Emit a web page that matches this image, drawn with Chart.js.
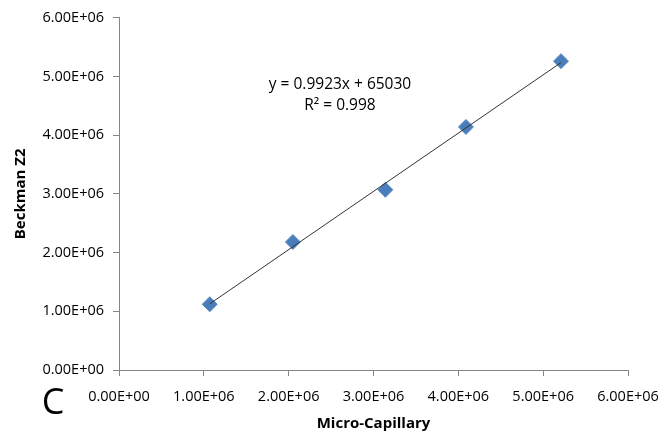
<!DOCTYPE html>
<html><head><meta charset="utf-8">
<script src="https://cdn.jsdelivr.net/npm/chart.js@4"></script>
<style>html,body{margin:0;padding:0;background:#fff}#wrap{width:672px;height:435px}</style>
</head><body><div id="wrap"><canvas id="c" width="672" height="435"></canvas></div>
<script>
const microCapillary = [1.07e6, 2.05e6, 3.14e6, 4.09e6, 5.21e6];
const beckmanZ2 = [1.12e6, 2.18e6, 3.07e6, 4.14e6, 5.26e6];
const slope = 0.9923, intercept = 65030, r2 = 0.998;
const tickValues = [0, 1e6, 2e6, 3e6, 4e6, 5e6, 6e6];
const tickLabels = ["0.00E+00","1.00E+06","2.00E+06","3.00E+06","4.00E+06","5.00E+06","6.00E+06"];

const points = microCapillary.map((x, i) => ({x, y: beckmanZ2[i]}));
const xMin = Math.min(...microCapillary), xMax = Math.max(...microCapillary);
const trend = [{x: xMin, y: slope * xMin + intercept}, {x: xMax, y: slope * xMax + intercept}];

const FONT = "'Open Sans', sans-serif";
const extraText = {
  id: 'extraText',
  afterDraw(chart) {
    const ctx = chart.ctx;
    ctx.save();
    ctx.fillStyle = '#000';
    ctx.textAlign = 'center';
    ctx.textBaseline = 'middle';
    ctx.font = "15.5px " + FONT;
    const eq = "y = " + slope + "x + " + intercept;
    ctx.fillText(eq, 340, 85);
    ctx.fillText("R\u00b2 = " + r2, 340, 106);
    ctx.font = "36px " + FONT;
    ctx.fillText("C", 53, 404);
    ctx.restore();
  }
};

const tickCb = v => { const i = tickValues.indexOf(v); return i >= 0 ? tickLabels[i] : ''; };

new Chart(document.getElementById('c'), {
  type: 'scatter',
  data: {
    datasets: [
      {data: points, pointStyle: 'rectRot', pointRadius: 7.5, pointHoverRadius: 7.5,
       backgroundColor: '#4a7ebb', borderColor: '#5a8ac6', borderWidth: 1, order: 2},
      {type: 'line', data: trend, borderColor: '#333', borderWidth: 1, pointRadius: 0, fill: false, order: 1}
    ]
  },
  options: {
    responsive: false, animation: false, events: [],
    layout: {padding: {left: 0, top: 13, right: 44, bottom: 0}},
    plugins: {legend: {display: false}, tooltip: {enabled: false}},
    scales: {
      x: {
        type: 'linear', min: 0, max: 6e6,
        afterBuildTicks: s => { s.ticks = tickValues.map(v => ({value: v})); },
        afterFit: s => { s.height = 65; },
        grid: {display: true, drawOnChartArea: false, drawTicks: true, tickLength: 6, color: '#868686'},
        border: {color: '#868686', width: 1},
        ticks: {callback: tickCb, font: {family: FONT, size: 14.5}, color: '#000', padding: 12, maxRotation: 0},
        title: {display: true, text: 'Micro-Capillary', font: {family: FONT, size: 15, weight: 'bold'}, color: '#000', padding: {top: 2, bottom: 2}}
      },
      y: {
        type: 'linear', min: 0, max: 6e6,
        afterBuildTicks: s => { s.ticks = tickValues.map(v => ({value: v})); },
        afterFit: s => { s.width = 119; },
        grid: {display: true, drawOnChartArea: false, drawTicks: true, tickLength: 6, color: '#868686'},
        border: {color: '#868686', width: 1},
        ticks: {callback: tickCb, font: {family: FONT, size: 14.5}, color: '#000', padding: 9},
        title: {display: true, text: 'Beckman Z2', font: {family: FONT, size: 15, weight: 'bold'}, color: '#000', padding: {top: 12, bottom: 0}}
      }
    }
  },
  plugins: [extraText]
});
</script></body></html>
